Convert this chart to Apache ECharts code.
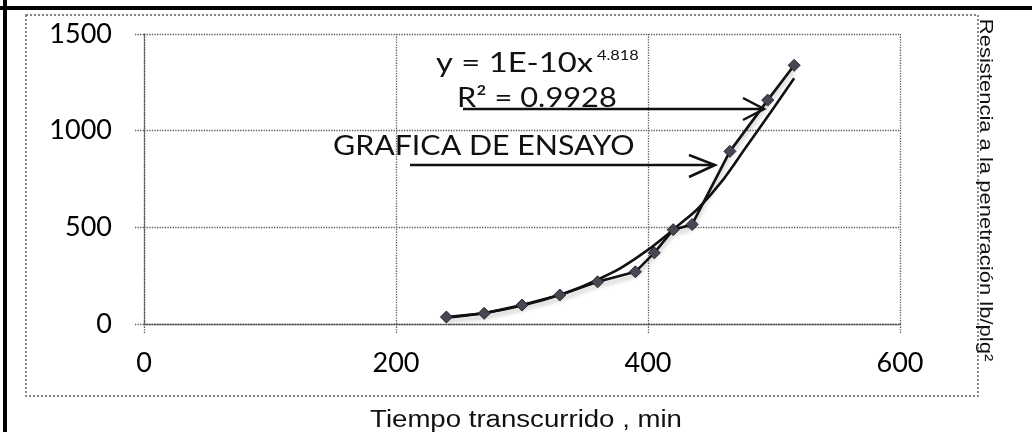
<!DOCTYPE html>
<html>
<head>
<meta charset="utf-8">
<title>Resistencia a la penetración</title>
<script src="https://cdn.jsdelivr.net/npm/echarts@6/dist/echarts.min.js"></script>
<style>
    html, body { margin: 0; padding: 0; background: #fff; }
    #chart { width: 1032px; height: 432px; }
</style>
</head>
<body>
<div id="chart"></div>
<script>
// datos de ensayo
var tiempo = [240, 270, 300, 330, 360, 390, 405, 420, 435, 465, 495, 516];
var resistencia = [36, 55, 98, 150, 218, 270, 368, 488, 515, 893, 1158, 1338];

// linea de tendencia potencial
var tiempoTend = [240, 270, 300, 330, 360, 390, 420, 450, 480, 500, 516];
var resistTend = [33, 57, 96, 151, 229, 338, 488, 670, 935, 1120, 1271];

// marcas de los ejes
var ticksX = [0, 200, 400, 600];
var ticksY = [0, 500, 1000, 1500];

var ecuacion = 'y = 1E-10x';
var exponente = '4.818';
var r2 = 'R² = 0.9928';
var nombreSerie = 'GRAFICA DE ENSAYO';
var tituloX = 'Tiempo transcurrido , min';
var tituloY = 'Resistencia a la penetración lb/plg²';

function pares(xs, ys) {
    var out = [];
    for (var i = 0; i < xs.length; i++) {
        out.push([xs[i], ys[i]]);
    }
    return out;
}

var myChart = echarts.init(document.getElementById('chart'));

var gris = '#5a5a5a';
var lblFont = 'Lato';

var option = {
    backgroundColor: '#fff',
    animation: false,
    grid: {
        left: 144,
        right: 132,
        top: 34,
        bottom: 108
    },
    xAxis: {
        type: 'value',
        min: ticksX[0],
        max: ticksX[ticksX.length - 1],
        interval: ticksX[1] - ticksX[0],
        axisLine: { show: true, lineStyle: { color: gris, width: 1.3, type: 'dotted' } },
        axisTick: { show: true, length: 9, lineStyle: { color: gris, width: 1.3, type: 'dotted' } },
        splitLine: { show: true, lineStyle: { color: gris, width: 1.3, type: 'dotted' } },
        axisLabel: {
            margin: 26,
            color: '#000',
            fontFamily: lblFont,
            fontSize: 27,
            formatter: function (v) { return String(v); }
        }
    },
    yAxis: {
        type: 'value',
        min: ticksY[0],
        max: ticksY[ticksY.length - 1],
        interval: ticksY[1] - ticksY[0],
        axisLine: { show: true, lineStyle: { color: gris, width: 1.3, type: 'dotted' } },
        axisTick: { show: true, length: 9, lineStyle: { color: gris, width: 1.3, type: 'dotted' } },
        splitLine: { show: true, lineStyle: { color: gris, width: 1.3, type: 'dotted' } },
        axisLabel: {
            margin: 32,
            color: '#000',
            fontFamily: lblFont,
            fontSize: 27,
            formatter: function (v) { return String(v); }
        }
    },
    series: [
        {
            name: nombreSerie,
            type: 'line',
            data: pares(tiempo, resistencia),
            symbol: 'diamond',
            symbolSize: 12,
            itemStyle: { color: '#4a4552', borderColor: '#2a262e', borderWidth: 1 },
            lineStyle: {
                color: '#111',
                width: 2.6,
                shadowColor: 'rgba(0,0,0,0.25)',
                shadowBlur: 4,
                shadowOffsetY: 4
            },
            z: 3
        },
        {
            name: 'Tendencia',
            type: 'line',
            data: pares(tiempoTend, resistTend),
            smooth: true,
            symbol: 'none',
            lineStyle: { color: '#111', width: 2.6 },
            z: 2
        }
    ],
    graphic: [
        // marco exterior
        { type: 'line', shape: { x1: 0, y1: 8, x2: 1032, y2: 8 }, style: { stroke: '#000', lineWidth: 4 } },
        { type: 'line', shape: { x1: 5, y1: 0, x2: 5, y2: 432 }, style: { stroke: '#000', lineWidth: 4 } },
        // borde del area del grafico
        {
            type: 'rect',
            shape: { x: 26, y: 15, width: 952, height: 381 },
            style: { fill: 'none', stroke: gris, lineWidth: 1.4, lineDash: [2, 2] },
            silent: true
        },
        // ecuacion y R2
        {
            type: 'text', x: 436, y: 64, scaleX: 1.26, z: 100,
            style: { text: ecuacion, fill: '#111', font: '26px Lato', verticalAlign: 'middle', align: 'left' }
        },
        {
            type: 'text', x: 597, y: 55, scaleX: 1.17, z: 100,
            style: { text: exponente, fill: '#111', font: '14px Lato', verticalAlign: 'middle', align: 'left' }
        },
        {
            type: 'text', x: 457, y: 99, scaleX: 1.185, z: 100,
            style: { text: r2, fill: '#111', font: '26px Lato', verticalAlign: 'middle', align: 'left' }
        },
        {
            type: 'text', x: 333, y: 147, scaleX: 1.167, z: 100,
            style: { text: nombreSerie, fill: '#111', font: '26px Lato', verticalAlign: 'middle', align: 'left' }
        },
        // flechas
        {
            type: 'polyline', z: 100,
            shape: { points: [[463, 109], [764, 109]] },
            style: { stroke: '#111', lineWidth: 2.5, fill: 'none' }
        },
        {
            type: 'polyline', z: 100,
            shape: { points: [[743, 98], [764, 109], [743, 120]] },
            style: { stroke: '#111', lineWidth: 2.5, fill: 'none' }
        },
        {
            type: 'polyline', z: 100,
            shape: { points: [[410, 165], [715, 165]] },
            style: { stroke: '#111', lineWidth: 2.5, fill: 'none' }
        },
        {
            type: 'polyline', z: 100,
            shape: { points: [[689, 155], [715, 165], [689, 177]] },
            style: { stroke: '#111', lineWidth: 2.5, fill: 'none' }
        },
        // titulos de ejes
        {
            type: 'text', x: 526, y: 421, scaleX: 1.2, z: 100,
            style: { text: tituloX, fill: '#111', font: '23px "Liberation Sans"', verticalAlign: 'middle', align: 'center' }
        },
        {
            type: 'text', x: 985, y: 190, rotation: -Math.PI / 2, scaleY: 0.85, z: 100,
            style: { text: tituloY, fill: '#111', font: '22px "Liberation Sans"', verticalAlign: 'middle', align: 'center' }
        }
    ]
};

myChart.setOption(option);
</script>
</body>
</html>
